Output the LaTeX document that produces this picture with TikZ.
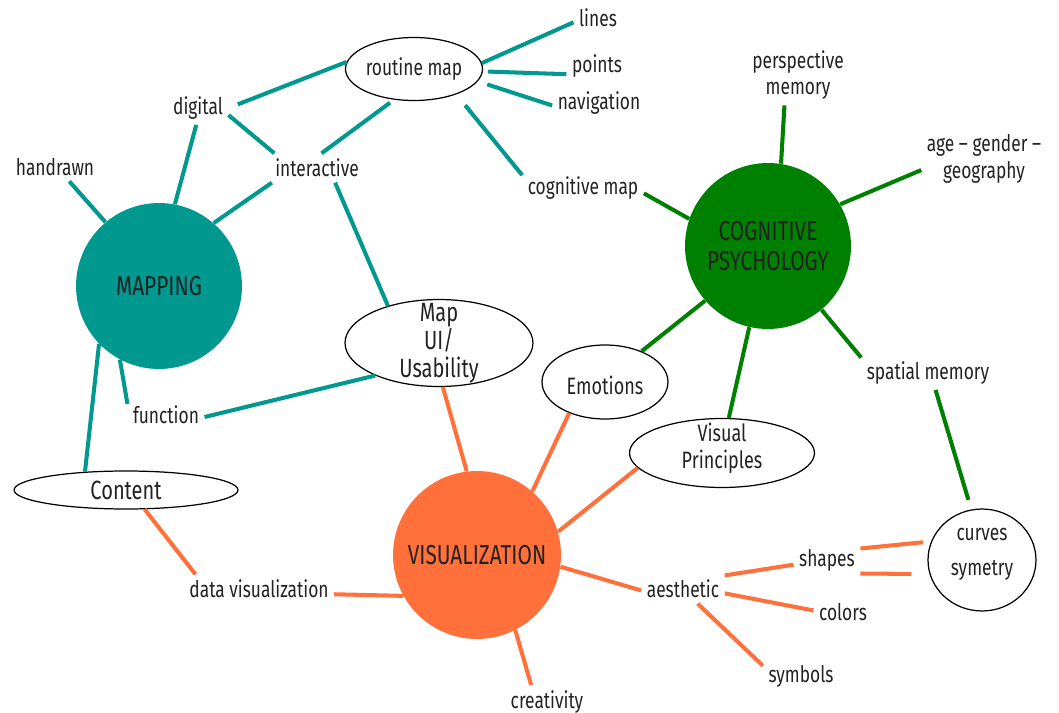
\documentclass[tikz,border=0pt]{standalone}
\usepackage{fontspec}
\setmainfont{Fira Sans}[FakeStretch=0.76]
\usetikzlibrary{shapes.geometric}

\definecolor{mapteal}{RGB}{0,152,143}
\definecolor{coggreen}{RGB}{0,128,0}
\definecolor{visorange}{RGB}{255,112,58}
\definecolor{inkgray}{RGB}{34,34,34}

\begin{document}
\begin{tikzpicture}[x=0.02cm,y=-0.02cm,
	every node/.style={text=inkgray},
	hub/.style={circle,inner sep=0pt,minimum size=3.32cm,align=center,font=\fontsize{15.6}{16.8}\selectfont},
	oval/.style={draw=black,ellipse,line width=0.7pt,inner sep=0pt},
	tag/.style={inner sep=3pt,align=center,font=\fontsize{13}{15.3}\selectfont},
	teal line/.style={draw=mapteal,line width=2.3pt},
	green line/.style={draw=coggreen,line width=2.3pt},
	orange line/.style={draw=visorange,line width=2.3pt}]
	\useasboundingbox (0,0) rectangle (1059,713);
	% the three hubs
	\node (map) [hub,fill=mapteal] at (159,286) {MAPPING};
	\node (cog) [hub,fill=coggreen] at (768,246) {COGNITIVE\\PSYCHOLOGY};
	\node (vis) [hub,fill=visorange,minimum size=3.36cm] at (477,555) {VISUALIZATION};
	% ovals
	\node (routine) [oval,minimum width=2.74cm,minimum height=1.26cm,label={[tag,inner sep=0pt]center:routine map}] at (414,69) {};
	\node (mapui) [oval,minimum width=3.76cm,minimum height=1.74cm,label={[tag,inner sep=0pt,font=\fontsize{15}{15.8}\selectfont]center:Map\\UI/\\Usability}] at (439,343) {};
	\node (content) [oval,minimum width=4.48cm,minimum height=0.76cm,label={[tag,inner sep=0pt,font=\fontsize{15}{16}\selectfont]center:Content}] at (126,490) {};
	\node (emotions) [oval,minimum width=2.52cm,minimum height=1.48cm,label={[tag,inner sep=0pt,font=\fontsize{13.5}{15}\selectfont,yshift=-0.06cm]center:Emotions}] at (605,382) {};
	\node (visual) [oval,minimum width=3.7cm,minimum height=1.38cm,label={[tag,inner sep=0pt,font=\fontsize{13.5}{15.3}\selectfont,yshift=0.1cm]center:Visual\\Principles}] at (722,453) {};
	\node (curves) [oval,minimum width=2.16cm,minimum height=2.04cm,label={[tag,inner sep=0pt,font=\fontsize{13}{19.8}\selectfont,yshift=0.12cm]center:curves\\symetry}] at (982,560) {};
	% plain labels
	\node (lines) [tag] at (598,18) {lines};
	\node (points) [tag] at (597,66) {points};
	\node (navigation) [tag] at (599,103) {navigation};
	\node (perspective) [tag] at (798,75) {perspective\\memory};
	\node (age) [tag] at (984,159) {age -- gender --\\geography};
	\node (cogmap) [tag] at (583,188) {cognitive map};
	\node (digital) [tag] at (198,108) {digital};
	\node (handrawn) [tag] at (55,167) {handrawn};
	\node (interactive) [tag] at (317,168) {interactive};
	\node (function) [tag] at (166,415) {function};
	\node (datavis) [tag] at (259,589) {data visualization};
	\node (creativity) [tag] at (547,702) {creativity};
	\node (aesthetic) [tag] at (683,589) {aesthetic};
	\node (shapes) [tag] at (827,560) {shapes};
	\node (colors) [tag] at (843,612) {colors};
	\node (symbols) [tag] at (801,676) {symbols};
	\node (spatial) [tag] at (928,373) {spatial memory};
	% mapping branch
	\path[teal line] (routine.5) edge (lines.190);
	\path[teal line] (routine.-2) edge [shorten <=0.1cm] (points.195);
	\path[teal line] (routine.-11) edge [shorten <=0.2cm] (navigation.183);
	\path[teal line] (routine.-31) edge [shorten <=0.28cm] (cogmap.168);
	\path[teal line] (routine.174) edge [shorten >=0.2cm] (digital.0);
	\path[teal line] (routine.237) edge [shorten <=0.1cm] (interactive.73);
	\path[teal line] (digital.-13) edge (interactive.161);
	\path[teal line] (digital.264) edge (map.79);
	\path[teal line] (handrawn.315) edge (map.130);
	\path[teal line] (interactive.198) edge (map.49);
	\path[teal line] (interactive.321) edge (mapui.144);
	\path[teal line] (map.242) edge (function.164);
	\path[teal line] (map.224) edge (content.156);
	\path[teal line] (function.-3) edge (mapui.207);
	% visualization branch
	\path[orange line] (content.-46) edge (datavis.167);
	\path[orange line] (datavis.-4) edge (vis.209);
	\path[orange line] (mapui.275) edge (vis.97);
	\path[orange line] (vis.297) edge (creativity.133);
	\path[orange line] (vis.49) edge (emotions.221);
	\path[orange line] (vis.16) edge (visual.190);
	\path[orange line] (vis.-8) edge (aesthetic.182);
	\path[orange line] (aesthetic.18) edge (shapes.188);
	\path[orange line] (aesthetic.-6) edge (colors.177);
	\path[orange line] (aesthetic.-45) edge (symbols.165);
	\path[orange line] (shapes.19) edge [shorten >=0.16cm] (curves.160);
	\path[orange line] (shapes.-22) edge [shorten >=0.36cm] (curves.195);
	% cognitive branch
	\path[green line] (cog.81) edge (perspective.246);
	\path[green line] (cog.30) edge (age.190);
	\path[green line] (cog.161) edge (cogmap.-5);
	\path[green line] (cog.221) edge (emotions.40);
	\path[green line] (cog.257) edge (visual.79);
	\path[green line] (cog.310) edge (spatial.167);
	\path[green line] (spatial.294) edge [shorten >=0.2cm] (curves.102);
\end{tikzpicture}
\end{document}
